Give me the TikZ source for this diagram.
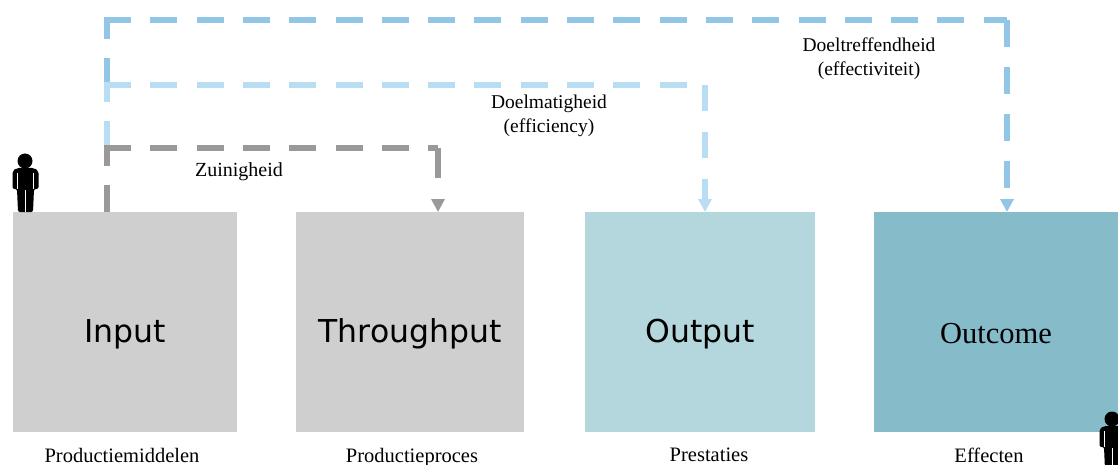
\documentclass[tikz,border=0pt]{standalone}
\usepackage{fontspec}
\setmainfont{Liberation Serif}
\newfontfamily\boxfont{DejaVu Sans}
\usetikzlibrary{positioning,arrows.meta}
\definecolor{boxgray}{HTML}{CFCFCF}
\definecolor{boxlight}{HTML}{B3D7DD}
\definecolor{boxteal}{HTML}{86BCCA}
\definecolor{linegray}{HTML}{999999}
\definecolor{linelight}{HTML}{B9DDF3}
\definecolor{linedark}{HTML}{92C6E6}
\begin{document}
\begin{tikzpicture}[
    x=1pt, y=-1pt,
    block/.style={rectangle, minimum height=220pt, inner sep=0pt, outer sep=0pt, text height=40pt, text depth=0pt, font=\boxfont\fontsize{31.5}{36}\selectfont},
    caption/.style={inner sep=0pt, font=\fontsize{20.5}{24}\selectfont},
    remark/.style={inner sep=0pt, align=center, font=\fontsize{19.5}{24}\selectfont},
    link/.style={line width=6.5pt, dash pattern=on 27pt off 19.3pt},
    tip/.style={-{Triangle[width=13pt, length=13pt]}},
    person/.pic={
        \fill[black] (25,161) circle (7.5);
        \fill[black, rounded corners=2pt] (12.5,189) -- (12.5,171) -- (17,168) -- (34,168) -- (38.5,171) -- (38.5,189) -- (34,189) -- (33,212) -- (18,212) -- (17,189) -- cycle;
        \draw[white, line width=0.6pt] (17.5,173) -- (17.5,189) (33.5,173) -- (33.5,189) (25.5,190) -- (25.5,212);
    }
]
    \useasboundingbox (0,0) rectangle (1118,465);

    \node[block, fill=boxgray, minimum width=224pt, anchor=north west] (input) at (13,212) {Input};
    \node[block, fill=boxgray, minimum width=228pt, right=59pt of input] (through) {Throughput};
    \node[block, fill=boxlight, minimum width=230pt, right=61pt of through] (output) {Output};
    \node[block, fill=boxteal, minimum width=244pt, right=59pt of output, text height=42pt, font=\fontsize{30.5}{36}\selectfont] (outcome) {Outcome};

    \node[caption, below=16pt of input, xshift=-3pt] (middelen) {Productiemiddelen};
    \node[caption, below=16pt of through, xshift=2pt] (proces) {Productieproces};
    \node[caption, below=16pt of output, xshift=9pt] (prestaties) {Prestaties};
    \node[caption, below=16pt of outcome, xshift=-7pt] (effecten) {Effecten};

    \node[remark, font=\fontsize{20}{24}\selectfont] (zuinig) at (239,172) {Zuinigheid};
    \node[remark] (doelmatig) at (549,116) {Doelmatigheid\\(efficiency)};
    \node[remark] (doeltref) at (869,59) {Doeltreffendheid\\(effectiviteit)};

    \coordinate (branchzuinig) at (107,148);
    \coordinate (branchmatig) at (107,85);
    \coordinate (branchtref) at (107,20);
    \coordinate (cornerzuinig) at (438,148);
    \coordinate (cornermatig) at (705,85);
    \coordinate (cornertref) at (1007,20);

    % doeltreffendheid
    \draw[link, linedark] (branchmatig) -- (branchtref);
    \draw[link, linedark] ([xshift=-3pt]branchtref) -- (cornertref);
    \draw[link, linedark, tip, dash pattern=on 27pt off 20pt] (cornertref) -- (cornertref |- outcome.north);

    % doelmatigheid
    \draw[link, linelight] (branchzuinig) -- (branchmatig);
    \draw[link, linelight] ([xshift=-3pt]branchmatig) -- ([xshift=-17pt]cornermatig);
    \draw[link, linelight, tip, dash pattern=on 26pt off 21pt] (cornermatig) -- (cornermatig |- output.north);

    % zuinigheid
    \draw[link, linegray] (branchzuinig |- input.north) -- (branchzuinig);
    \draw[link, linegray] ([xshift=-3pt]branchzuinig) -- (cornerzuinig);
    \draw[link, linegray, tip, dash pattern=on 30pt off 24pt] (cornerzuinig) -- (cornerzuinig |- through.north);

    \pic at (0,0) {person};
    \pic at (1087,258) {person};
\end{tikzpicture}
\end{document}
